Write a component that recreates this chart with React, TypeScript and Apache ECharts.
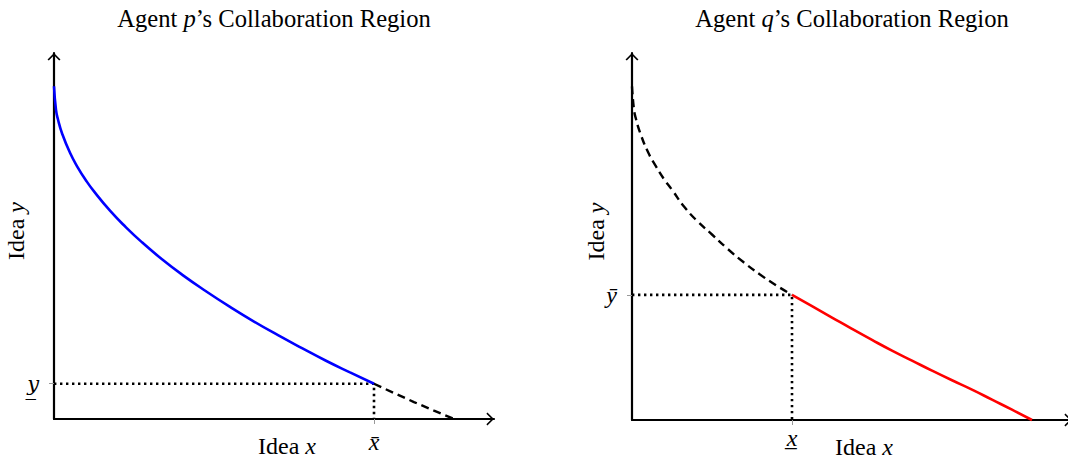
import React, { useEffect, useRef } from "react";
import * as echarts from "echarts";

// ---- data ----
const axisMax = 1.1;

// Agent p: solid blue part of the boundary
const pSolidX = [0, 0.005, 0.01, 0.02, 0.04, 0.06, 0.08, 0.1, 0.14, 0.18, 0.22, 0.27, 0.32, 0.38, 0.44, 0.5, 0.56, 0.62, 0.68, 0.74, 0.8];
const pSolidY = [1, 0.929, 0.9, 0.859, 0.8, 0.755, 0.717, 0.684, 0.626, 0.576, 0.531, 0.48, 0.434, 0.384, 0.337, 0.293, 0.252, 0.213, 0.175, 0.14, 0.106];
// Agent p: dashed continuation
const pDashX = [0.8, 0.85, 0.9, 0.95, 1.0];
const pDashY = [0.106, 0.078, 0.051, 0.025, 0];
// Agent p: dotted guide
const pGuideX = [0, 0.8, 0.8];
const pGuideY = [0.106, 0.106, 0];

// Agent q: dashed part
const qDashX = [0, 0.005, 0.01, 0.02, 0.04, 0.06, 0.08, 0.1, 0.13, 0.16, 0.2, 0.24, 0.28, 0.32, 0.36, 0.4];
const qDashY = [1, 0.93, 0.902, 0.862, 0.803, 0.76, 0.722, 0.69, 0.64, 0.6, 0.556, 0.512, 0.472, 0.436, 0.404, 0.375];
// Agent q: solid red part
const qSolidX = [0.4, 0.45, 0.5, 0.55, 0.6, 0.65, 0.7, 0.75, 0.8, 0.85, 0.9, 0.95, 1.0];
const qSolidY = [0.375, 0.341, 0.307, 0.273, 0.24, 0.208, 0.178, 0.148, 0.119, 0.091, 0.061, 0.031, 0];
// Agent q: dotted guide
const qGuideX = [0, 0.4, 0.4];
const qGuideY = [0.375, 0.375, 0];

// tick positions and labels
const pTickX = [0.8];
const pTickY = [0.106];
const qTickX = [0.4];
const qTickY = [0.375];
const pTickXLabel = "x\u0304";
const pTickYLabel = "y\u0332";
const qTickXLabel = "x\u0332";
const qTickYLabel = "y\u0304";

const zip = (xs: number[], ys: number[]) => xs.map((x, i) => [x, ys[i]]);

const FONT = "Liberation Serif";
const FS = 24;
const mkRich = (fs: number) => ({
  n: { fontFamily: FONT, fontSize: fs, color: "#000", fontWeight: "normal" },
  i: { fontFamily: FONT, fontSize: fs, color: "#000", fontStyle: "italic", fontWeight: "normal" },
});
const ARROW = "path://M0,6.6 L6.5,0 L13,6.6 L11.7,7.6 L6.5,2.3 L1.3,7.6 Z";

export default function App() {
  const ref = useRef<HTMLDivElement>(null);
  useEffect(() => {
    document.body.style.margin = "0";
    if (!ref.current) return;
    const chart = echarts.init(ref.current, null, { renderer: "svg" });

    const axisLine = {
      show: true,
      onZero: false,
      symbol: ["none", ARROW],
      symbolSize: [13, 7.6],
      symbolOffset: [0, -3.8],
      lineStyle: { color: "#000", width: 2.2 },
    };
    const tick = (vals: number[]) => ({
      show: true,
      customValues: vals,
      length: 5,
      lineStyle: { color: "#999", width: 1 },
    });
    const label = (vals: number[], text: string, margin: number, font: string, fs: number) => ({
      show: true,
      customValues: vals,
      formatter: () => text,
      margin,
      fontFamily: font,
      fontSize: fs,
      fontStyle: "italic",
      color: "#000",
    });

    const mkX = (gi: number, vals: number[], text: string, margin: number, pad: number) => ({
      type: "value",
      gridIndex: gi,
      min: 0,
      max: axisMax,
      axisLine,
      axisTick: tick(vals),
      axisLabel: label(vals, text, margin, FONT, FS),
      splitLine: { show: false },
      name: "{n|Idea }{i|x}",
      nameLocation: "middle",
      nameGap: 15,
      nameMoveOverlap: false,
      nameTextStyle: { rich: mkRich(FS), padding: [0, 0, 0, pad] },
    });
    const mkY = (gi: number, vals: number[], text: string, gap: number, font: string, fs: number) => ({
      type: "value",
      gridIndex: gi,
      min: 0,
      max: axisMax,
      axisLine,
      axisTick: tick(vals),
      axisLabel: label(vals, text, 15, font, fs),
      splitLine: { show: false },
      name: "{n|Idea }{i|y}",
      nameLocation: "middle",
      nameGap: gap,
      nameMoveOverlap: false,
      nameTextStyle: { rich: mkRich(FS), padding: [0, 0, 0, 10] },
    });

    const line = (xi: number, data: number[][], color: string, width: number, type: any, smooth: boolean) => ({
      type: "line",
      xAxisIndex: xi,
      yAxisIndex: xi,
      data,
      smooth,
      showSymbol: false,
      silent: true,
      clip: false,
      lineStyle: { color, width, type, cap: "butt" },
    });

    chart.setOption({
      animation: false,
      backgroundColor: "#fff",
      title: [
        {
          text: "{n|Agent }{i|p}{n|\u2019s Collaboration Region}",
          left: 274,
          top: 6,
          padding: 0,
          textAlign: "center",
          textStyle: { rich: mkRich(24.6), fontWeight: "normal" },
        },
        {
          text: "{n|Agent }{i|q}{n|\u2019s Collaboration Region}",
          left: 852,
          top: 6,
          padding: 0,
          textAlign: "center",
          textStyle: { rich: mkRich(24.6), fontWeight: "normal" },
        },
      ],
      grid: [
        { left: 54, top: 53, width: 440, height: 366, outerBoundsMode: "none", containLabel: false },
        { left: 632, top: 53, width: 440, height: 367, outerBoundsMode: "none", containLabel: false },
      ],
      xAxis: [
        mkX(0, pTickX, pTickXLabel, 11, 26),
        mkX(1, qTickX, qTickXLabel, 6, 24),
      ],
      yAxis: [
        mkY(0, pTickY, pTickYLabel, 26, "DejaVu Serif", 21),
        mkY(1, qTickY, qTickYLabel, 24, FONT, FS),
      ],
      series: [
        line(0, zip(pGuideX, pGuideY), "#000", 2.6, [2.4, 3.6], false),
        line(0, zip(pDashX, pDashY), "#000", 2.4, [8, 5], false),
        line(0, zip(pSolidX, pSolidY), "#0000ff", 2.6, "solid", true),
        line(1, zip(qGuideX, qGuideY), "#000", 2.6, [2.4, 3.6], false),
        line(1, zip(qDashX, qDashY), "#000", 2.4, [8, 5], true),
        line(1, zip(qSolidX, qSolidY), "#ff0000", 2.6, "solid", true),
      ],
    });
    return () => chart.dispose();
  }, []);
  return <div ref={ref} style={{ width: 1068, height: 462 }} />;
}
